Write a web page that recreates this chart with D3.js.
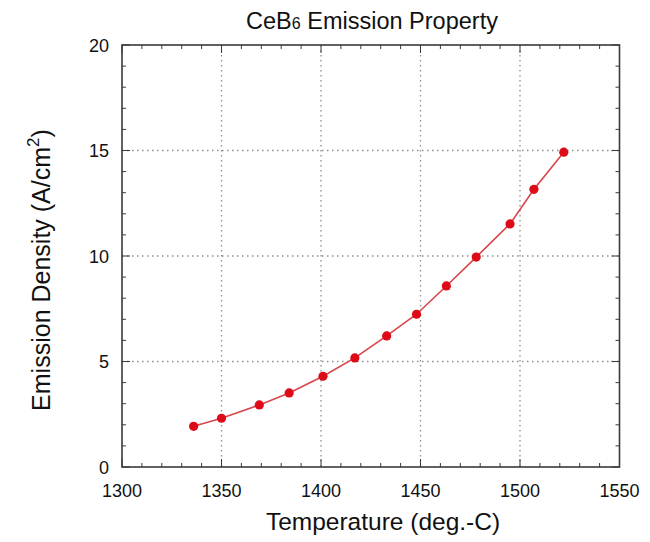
<!DOCTYPE html>
<html>
<head>
<meta charset="utf-8">
<script src="https://cdn.jsdelivr.net/npm/d3@7"></script>
<style>
  html, body { margin: 0; padding: 0; background: #fff; }
  svg { display: block; font-family: "Liberation Sans", Arial, sans-serif; }
</style>
</head>
<body>
<svg id="chart" width="650" height="542"></svg>
<script>
// Measured emission density of a CeB6 cathode vs. temperature
const temperature = [1336, 1350, 1369, 1384, 1401, 1417, 1433, 1448, 1463, 1478, 1495, 1507, 1522];
const density = [1.93, 2.31, 2.94, 3.51, 4.30, 5.17, 6.21, 7.24, 8.58, 9.95, 11.52, 13.16, 14.92];

const xTicks = [1300, 1350, 1400, 1450, 1500, 1550];
const yTicks = [0, 5, 10, 15, 20];
const xMinor = d3.range(1300, 1551, 10);
const yMinor = d3.range(0, 20.01, 1);

const svg = d3.select("#chart");
const m = { left: 122, right: 619.5, top: 45, bottom: 467 };

const x = d3.scaleLinear().domain([1300, 1550]).range([m.left, m.right]);
const y = d3.scaleLinear().domain([0, 20]).range([m.bottom, m.top]);

const frameColor = "#3a3a3a";

// dotted grid at the inner major ticks
const grid = svg.append("g").attr("stroke", "#8f8f8f").attr("stroke-width", 1.3)
  .attr("stroke-dasharray", "1.5,3.5");
grid.selectAll("line.gx").data(xTicks.slice(1, -1)).join("line")
  .attr("x1", d => x(d)).attr("x2", d => x(d))
  .attr("y1", m.top).attr("y2", m.bottom);
grid.selectAll("line.gy").data(yTicks.slice(1, -1)).join("line")
  .attr("x1", m.left).attr("x2", m.right)
  .attr("y1", d => y(d)).attr("y2", d => y(d));

// inward ticks on all four sides
const tickG = svg.append("g").attr("stroke", frameColor).attr("stroke-width", 1);
const isMajorX = d => d % 50 === 0;
const isMajorY = d => d % 5 === 0;
const lenX = d => isMajorX(d) ? 8 : 4;
const lenY = d => isMajorY(d) ? 8 : 4;
tickG.selectAll("line.bx").data(xMinor).join("line")
  .attr("x1", d => x(d)).attr("x2", d => x(d))
  .attr("y1", m.bottom).attr("y2", d => m.bottom - lenX(d));
tickG.selectAll("line.tx").data(xMinor).join("line")
  .attr("x1", d => x(d)).attr("x2", d => x(d))
  .attr("y1", m.top).attr("y2", d => m.top + lenX(d));
tickG.selectAll("line.ly").data(yMinor).join("line")
  .attr("x1", m.left).attr("x2", d => m.left + lenY(d))
  .attr("y1", d => y(d)).attr("y2", d => y(d));
tickG.selectAll("line.ry").data(yMinor).join("line")
  .attr("x1", m.right).attr("x2", d => m.right - lenY(d))
  .attr("y1", d => y(d)).attr("y2", d => y(d));

// frame
svg.append("rect")
  .attr("x", m.left).attr("y", m.top)
  .attr("width", m.right - m.left).attr("height", m.bottom - m.top)
  .attr("fill", "none").attr("stroke", frameColor).attr("stroke-width", 1.6);

// tick labels
svg.append("g").selectAll("text").data(xTicks).join("text")
  .attr("x", d => x(d)).attr("y", 497)
  .attr("text-anchor", "middle").attr("font-size", 18).attr("fill", "#111")
  .text(d => d);
svg.append("g").selectAll("text").data(yTicks).join("text")
  .attr("x", 109).attr("y", d => y(d) + 6.5)
  .attr("text-anchor", "end").attr("font-size", 18).attr("fill", "#111")
  .text(d => d);

// data line and markers
const line = d3.line().x((d, i) => x(temperature[i])).y(d => y(d));
svg.append("path").datum(density)
  .attr("d", line).attr("fill", "none")
  .attr("stroke", "#d8454a").attr("stroke-width", 1.6);
svg.append("g").selectAll("circle").data(density).join("circle")
  .attr("cx", (d, i) => x(temperature[i])).attr("cy", d => y(d))
  .attr("r", 4.6).attr("fill", "#dd0a18");

// title
const title = svg.append("text")
  .attr("x", 372).attr("y", 29).attr("text-anchor", "middle")
  .attr("font-size", 23.5).attr("fill", "#111");
title.append("tspan").text("CeB");
title.append("tspan").attr("font-size", 16).text("6");
title.append("tspan").text(" Emission Property");

// axis titles
svg.append("text")
  .attr("x", 383).attr("y", 530).attr("text-anchor", "middle")
  .attr("font-size", 24.5).attr("fill", "#111")
  .text("Temperature (deg.-C)");

const yl = svg.append("text")
  .attr("transform", "translate(50,270) rotate(-90)")
  .attr("text-anchor", "middle").attr("font-size", 25).attr("fill", "#111");
yl.append("tspan").text("Emission Density (A/cm");
yl.append("tspan").attr("font-size", 17).attr("dy", -11).text("2");
yl.append("tspan").attr("dy", 11).text(")");
</script>
</body>
</html>
